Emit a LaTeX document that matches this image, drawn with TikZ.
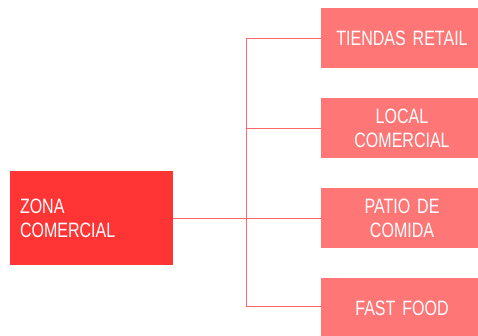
\documentclass[tikz,border=0pt]{standalone}
\usepackage{fontspec}
\setmainfont[FakeStretch=0.77,WordSpace=0.8]{Liberation Sans}
\usepackage{tikz}

\definecolor{zonared}{RGB}{255,53,53}
\definecolor{subred}{RGB}{255,118,118}
\definecolor{linkred}{RGB}{255,105,105}

\begin{document}
\begin{tikzpicture}[x=1pt,y=-1pt,
    mainbox/.style={fill=zonared,text=white,minimum width=163pt,minimum height=94pt,inner xsep=10pt,text width=143pt,align=left,font=\fontsize{20.8pt}{24pt}\selectfont},
    subbox/.style={fill=subred,text=white,minimum width=162pt,minimum height=60pt,text width=150pt,align=center,font=\fontsize{20.8pt}{24pt}\selectfont},
    link/.style={draw=linkred,line width=1pt}]
        \useasboundingbox (0,0) rectangle (478,335);

        \node[mainbox] (zona) at (91.5,218) {ZONA\\COMERCIAL};
        \foreach [count=\i] \name/\txt in {tiendas/TIENDAS RETAIL,local/LOCAL\\COMERCIAL,patio/PATIO DE\\COMIDA,fast/FAST FOOD}{
            \node[subbox] (\name) at (402,{38+90*(\i-1)}) {\txt};
        }

        \draw[link] (zona.east) -- (patio.west);
        \draw[link] (tiendas.west) -- ++(-74,0) |- ([yshift=2pt]fast.west);
        \draw[link] (local.west) -- ++(-74,0);
    \end{tikzpicture}
\end{document}
